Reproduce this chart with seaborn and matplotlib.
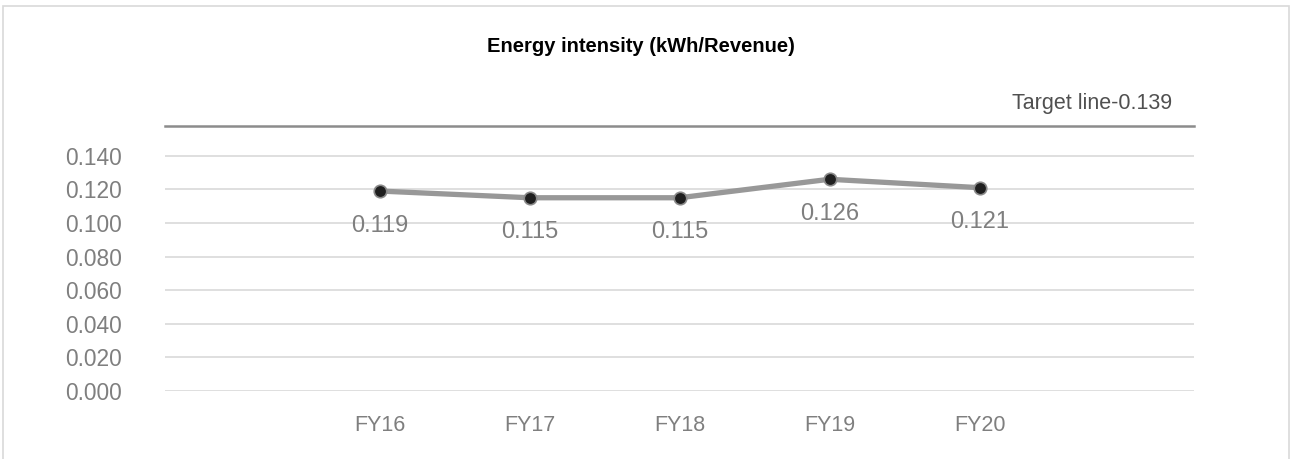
import matplotlib
matplotlib.use("Agg")
import matplotlib.pyplot as plt
import seaborn as sns
import pandas as pd
from matplotlib.patches import Rectangle

years = ["FY16", "FY17", "FY18", "FY19", "FY20"]
intensity = [0.119, 0.115, 0.115, 0.126, 0.121]
y_ticks = [0.000, 0.020, 0.040, 0.060, 0.080, 0.100, 0.120, 0.140]
target_value = 0.139
title = "Energy intensity (kWh/Revenue)"

sns.set_style("white")
plt.rcParams["font.family"] = ["Liberation Sans", "DejaVu Sans"]

df = pd.DataFrame({"year": years, "value": intensity})

W, H = 1290, 459
fig = plt.figure(figsize=(W / 100, H / 100), dpi=100)
ax = fig.add_axes([165 / W, 1 - 391 / H, (1194 - 165) / W, (391 - 126) / H])

sns.lineplot(data=df, x="year", y="value", ax=ax, color="#989898", linewidth=3.8,
             marker="o", markersize=9, markerfacecolor="#1f1f1f",
             markeredgecolor="#8a8a8a", markeredgewidth=1.2, sort=False, zorder=3)

for i, v in enumerate(intensity):
    ax.annotate(f"{v:.3f}", (i, v), xytext=(0, -25), textcoords="offset points",
                ha="center", va="center", fontsize=17, color="#7f7f7f")

ax.set_xlim(-1.43, 5.43)
ax.set_ylim(0, 0.1577)
ax.set_yticks(y_ticks)
ax.set_yticklabels([f"{t:.3f}" for t in y_ticks])
ax.yaxis.grid(True, color="#d9d9d9", linewidth=1.2)
ax.xaxis.grid(False)
ax.set_axisbelow(True)
ax.tick_params(axis="y", length=0, pad=31, labelsize=16.4, labelcolor="#7f7f7f")
ax.tick_params(axis="x", length=0, pad=17, labelsize=15.5, labelcolor="#7f7f7f")
ax.set_xlabel("")
ax.set_ylabel("")
for s in ["left", "right", "bottom"]:
    ax.spines[s].set_visible(False)
# target line drawn along the top edge of the plot
ax.spines["top"].set_visible(True)
ax.spines["top"].set_color("#8c8c8c")
ax.spines["top"].set_linewidth(1.8)

ax.text(1.0 - 22 / 1029, 1.0 + 23 / 265, f"Target line-{target_value}",
        transform=ax.transAxes, ha="right", va="center", fontsize=15.5, color="#505050")

fig.text(0.497, 1 - 47 / H, title, ha="center", va="center",
         fontsize=14.5, fontweight="bold", color="#000000")

fig.patches.append(Rectangle((3 / W, -0.05), (1289 - 3) / W, 1 - 6 / H + 0.05,
                             transform=fig.transFigure, fill=False,
                             edgecolor="#d9d9d9", linewidth=1.2))

fig.savefig("out.png", dpi=100)
